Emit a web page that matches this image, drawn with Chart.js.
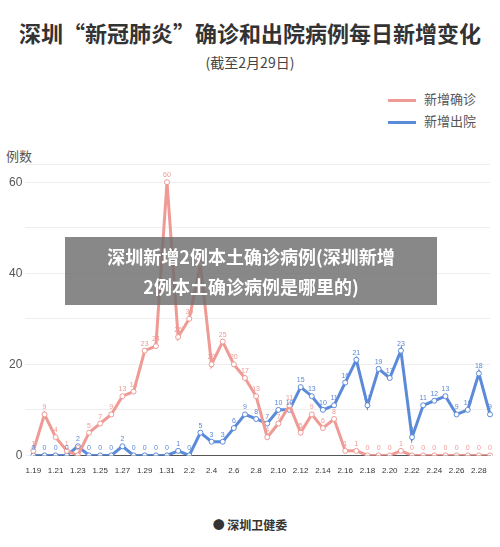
<!DOCTYPE html>
<html><head><meta charset="utf-8">
<script src="https://cdn.jsdelivr.net/npm/chart.js@4"></script>
<style>
body{margin:0;width:500px;height:547px;background:#fff;font-family:"Noto Sans CJK SC","Noto Sans",sans-serif;position:relative;overflow:hidden}
#t{position:absolute;top:16px;left:0;width:500px;text-align:center;font-size:22px;font-weight:bold;color:#333}
#s{position:absolute;top:52px;left:0;width:500px;text-align:center;font-size:14px;color:#444}
#c{position:absolute;left:0;top:150px}
#ov{position:absolute;left:65px;top:237px;width:372px;height:68px;background:rgba(110,110,110,0.82);color:#fff;font-weight:bold;font-size:18px;text-align:center;line-height:30px;padding-top:4px;box-sizing:border-box}
#f{position:absolute;top:516px;left:0;width:500px;text-align:center;font-size:12px;font-weight:bold;color:#333}
.lg{position:absolute;left:388px;font-size:13px;color:#555}
.lg i{display:inline-block;width:28px;height:3px;vertical-align:middle;margin-right:8px}
#yl{position:absolute;left:6px;top:146px;font-size:13px;color:#555}
</style></head><body>
<div id="t">深圳“新冠肺炎”确诊和出院病例每日新增变化</div>
<div id="s">(截至2月29日)</div>
<div class="lg" style="top:89px"><i style="background:#ef9a94"></i>新增确诊</div>
<div class="lg" style="top:111px"><i style="background:#5b8ad8"></i>新增出院</div>
<div id="yl">例数</div>
<canvas id="c" width="500" height="333"></canvas>
<div id="ov">深圳新增2例本土确诊病例(深圳新增<br>2例本土确诊病例是哪里的)</div>
<div id="f">● 深圳卫健委</div>
<script>
const labels=[];
for(let d=19;d<=31;d++)labels.push('1.'+d);
for(let d=1;d<=29;d++)labels.push('2.'+d);
const confirmed=[1,9,4,1,0,5,7,9,13,14,23,24,60,26,30,42,20,25,20,17,13,4,7,11,5,9,6,8,1,1,0,0,0,1,0,0,0,0,0,0,0,0];
const discharged=[0,0,0,0,2,0,0,0,2,0,0,0,0,1,0,5,3,3,6,9,8,7,10,10,15,13,10,11,16,21,11,19,17,23,4,11,12,13,9,10,18,9];
const yTicks=[0,20,40,60];
const lbl={id:'lbl',afterDatasetsDraw(ch){const c=ch.ctx;c.save();c.font='7px sans-serif';c.textAlign='center';
ch.data.datasets.forEach((ds,i)=>{ch.getDatasetMeta(i).data.forEach((p,j)=>{c.fillStyle=ds.borderColor;c.fillText(ds.data[j],p.x,p.y-5);});});c.restore();}};
new Chart(document.getElementById('c'),{type:'line',data:{labels,datasets:[
{label:'新增确诊',data:confirmed,borderColor:'#ef9a94',backgroundColor:'#fff',borderWidth:3,pointRadius:2.5,pointBorderWidth:1,tension:0},
{label:'新增出院',data:discharged,borderColor:'#5b8ad8',backgroundColor:'#fff',borderWidth:3,pointRadius:2.5,pointBorderWidth:1,tension:0}]},
options:{responsive:false,animation:false,layout:{padding:{left:6,right:10,top:14,bottom:4}},
plugins:{legend:{display:false},tooltip:{enabled:false}},
scales:{x:{offset:false,grid:{display:false},border:{color:'#555'},ticks:{autoSkip:false,maxRotation:0,font:{size:8},color:'#333',callback:(v,i)=>i%2==0?labels[i]:''}},
y:{min:0,max:64,border:{display:false},grid:{color:'#eee'},ticks:{stepSize:10,font:{size:12},color:'#555',callback:v=>yTicks.includes(v)?v:''}}}},
plugins:[lbl]});
</script>
</body></html>
